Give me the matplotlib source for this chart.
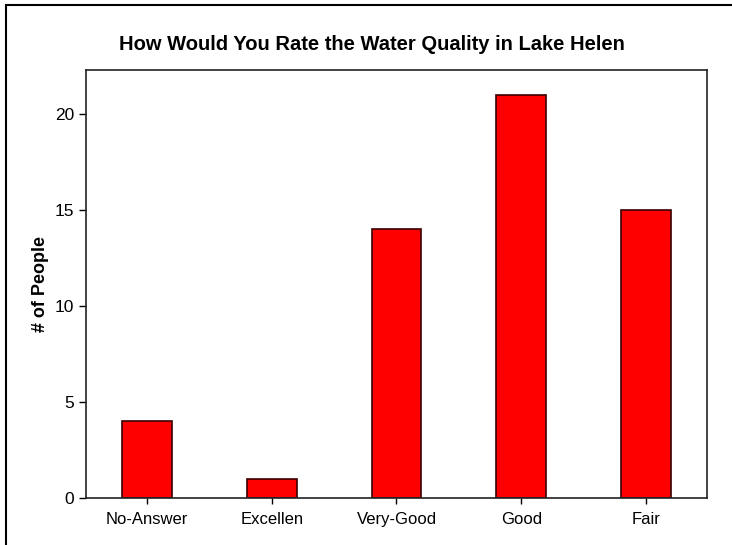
import matplotlib.pyplot as plt
from matplotlib.patches import Rectangle

categories = ['No-Answer', 'Excellen', 'Very-Good', 'Good', 'Fair']
counts = [4, 1, 14, 21, 15]
yticks = [0, 5, 10, 15, 20]

W, H = 732, 545
plt.rcParams['font.family'] = ['Liberation Sans', 'DejaVu Sans']

fig = plt.figure(figsize=(W / 100, H / 100), dpi=100)
# outer frame, only top and left edges show in the reference
fig.patches.append(Rectangle((6 / W, -0.1), 1.2, 1 - 5 / H + 0.1,
                             transform=fig.transFigure, fill=False,
                             edgecolor='black', linewidth=1.5))

ax = fig.add_axes([86 / W, 1 - 498 / H, (707 - 86) / W, (498 - 70) / H])
x = range(len(categories))
ax.bar(x, counts, width=0.4, color='#ff0000', edgecolor='#3a0000', linewidth=1.2)
ax.set_xlim(-0.49, 4.49)
ax.set_ylim(0, 22.3)
ax.set_xticks(list(x))
ax.set_xticklabels(categories, fontsize=12)
ax.set_yticks(yticks)
ax.tick_params(axis='y', labelsize=12.5, length=5, width=1, direction='out')
ax.tick_params(axis='x', length=4, width=1, direction='out', pad=6)
for s in ax.spines.values():
    s.set_linewidth(1.2)
    s.set_color('#222222')
ax.set_ylabel('# of People', fontsize=13, fontweight='bold', labelpad=4)
fig.text(372 / W, 1 - 44 / H, 'How Would You Rate the Water Quality in Lake Helen',
         ha='center', va='center', fontsize=14.5, fontweight='bold')

fig.savefig('out.png', dpi=100)
